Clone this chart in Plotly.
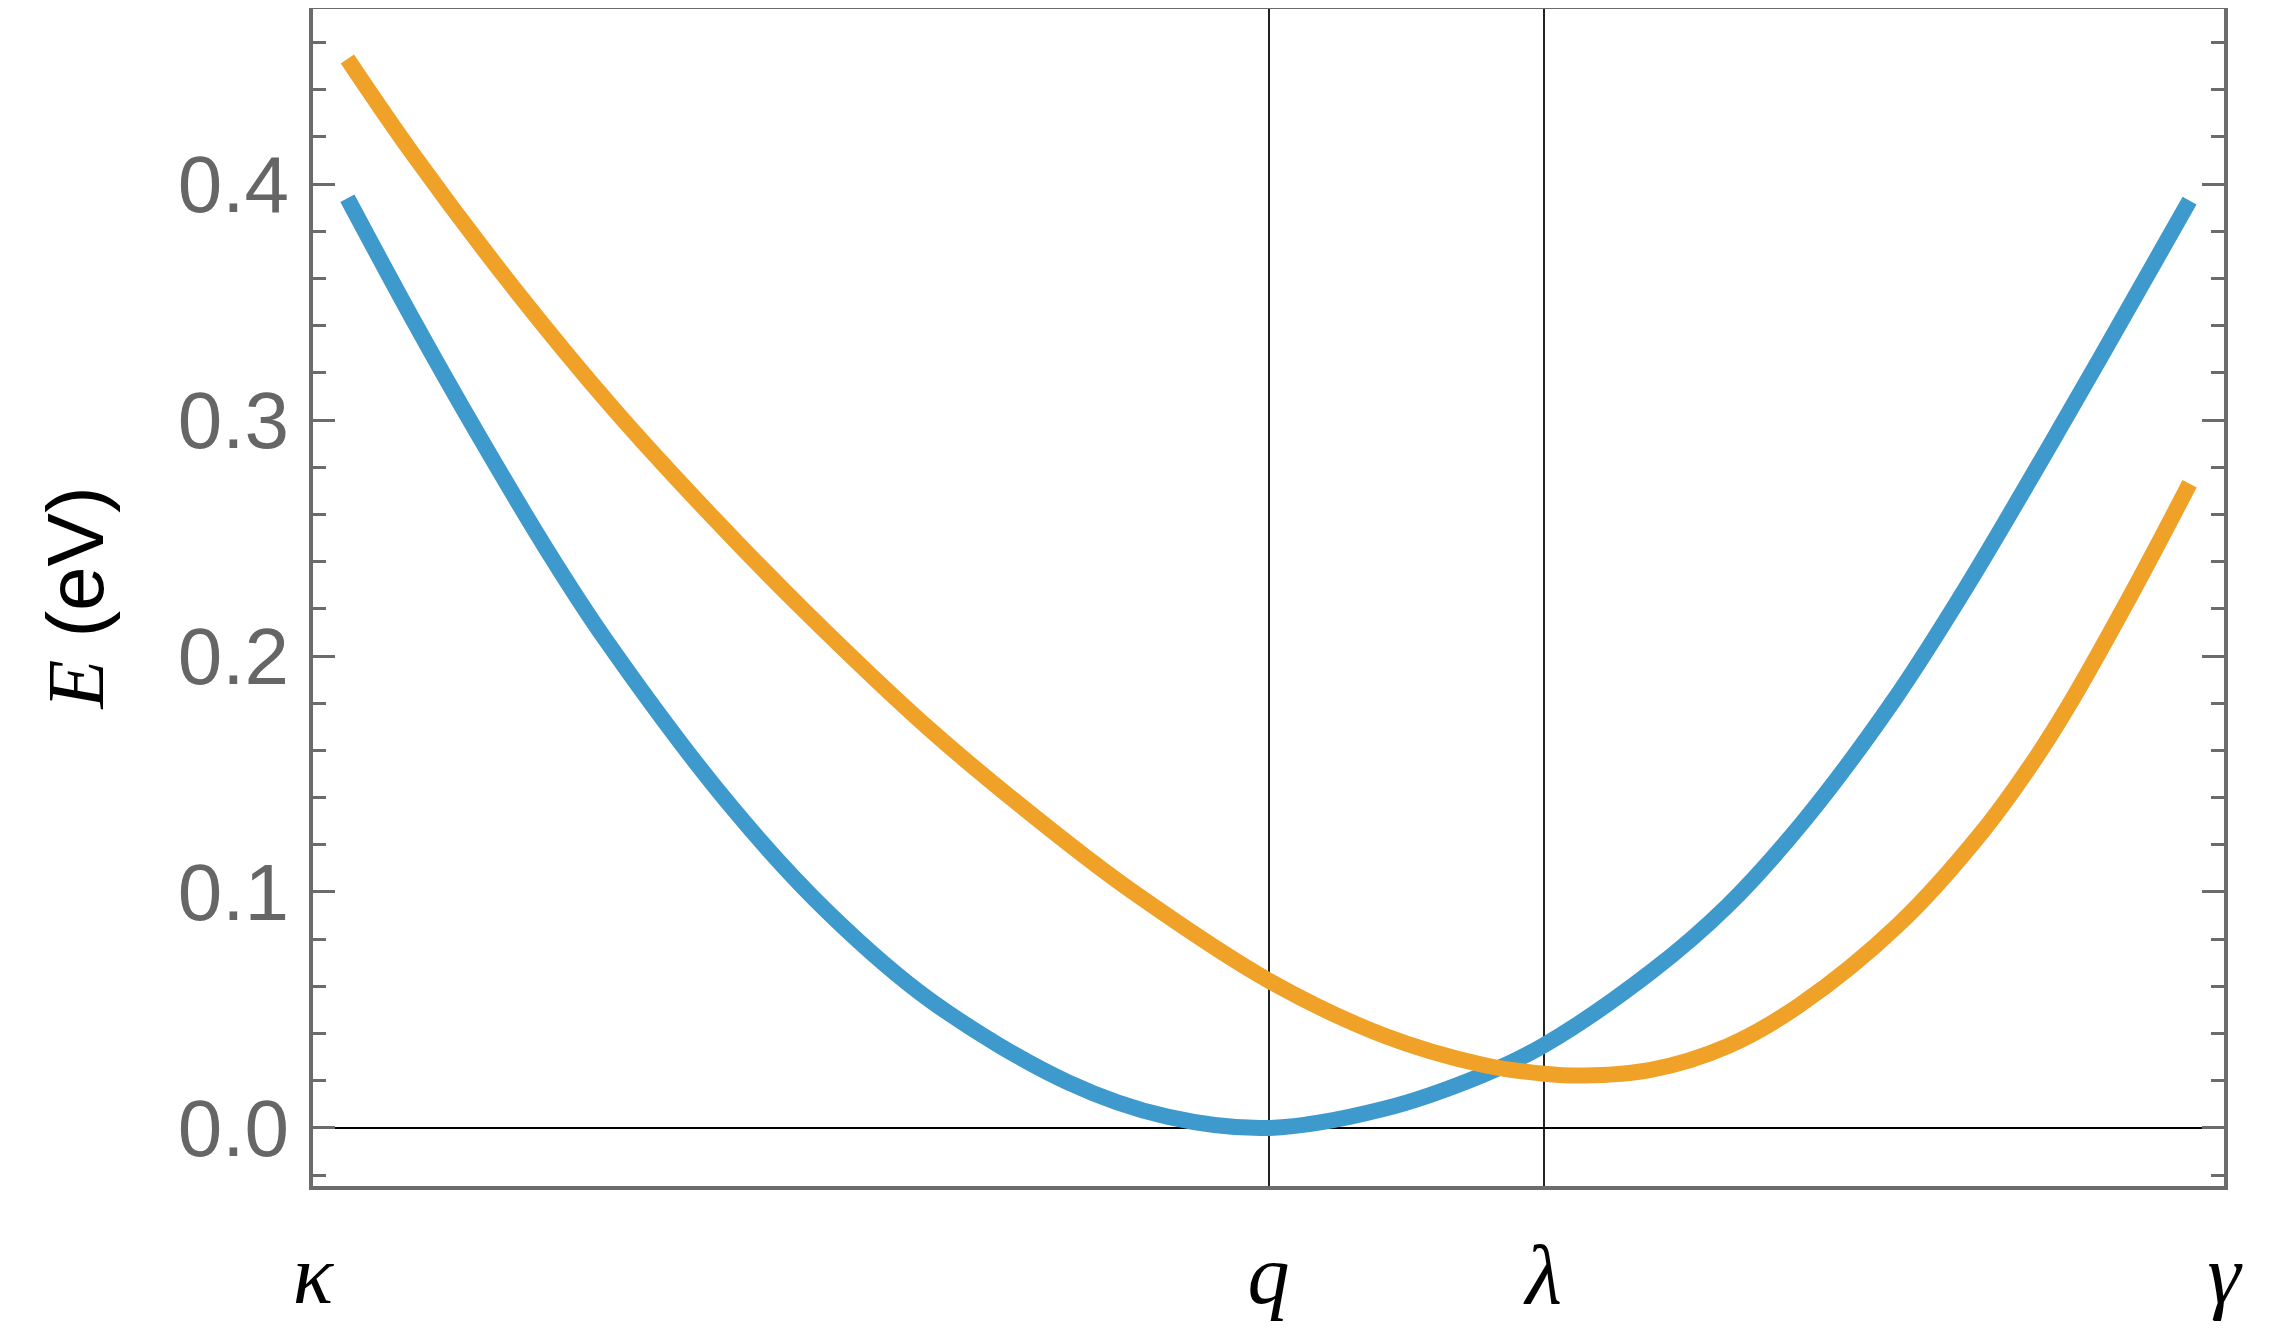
import plotly.graph_objects as go

# path coordinate (kappa = 0, gamma = 1) and energies (eV)
k_blue = [0.018, 0.052, 0.087, 0.122, 0.153, 0.218, 0.270, 0.324, 0.395, 0.447,
          0.500, 0.560, 0.612, 0.644, 0.700, 0.740, 0.780, 0.827, 0.865, 0.918,
          0.968, 0.982]
e_blue = [0.394, 0.343, 0.293, 0.2455, 0.207, 0.137, 0.091, 0.0535, 0.0194, 0.0048,
          0.000, 0.008, 0.0224, 0.035, 0.066, 0.094, 0.130, 0.181, 0.229, 0.302,
          0.373, 0.393]

k_orange = [0.018, 0.052, 0.105, 0.157, 0.209, 0.258, 0.324, 0.395, 0.430, 0.500, 0.560,
            0.612, 0.644, 0.665, 0.700, 0.740, 0.778, 0.830, 0.874, 0.900, 0.918, 0.952,
            0.982]
e_orange = [0.453, 0.413, 0.356, 0.305, 0.259, 0.2185, 0.168, 0.1207, 0.0995, 0.0625, 0.0393,
            0.0268, 0.023, 0.0222, 0.0246, 0.0346, 0.0521, 0.0864, 0.126, 0.155, 0.178, 0.227,
            0.273]

kpoints = [0.0, 0.5, 0.644, 1.0]
klabels = ['κ', 'q', 'λ', 'γ']

fig = go.Figure()

fig.add_trace(go.Scatter(
    x=k_blue, y=e_blue, mode='lines',
    line=dict(color='#3e99cc', width=16, shape='spline', smoothing=1.0),
    showlegend=False
))
fig.add_trace(go.Scatter(
    x=k_orange, y=e_orange, mode='lines',
    line=dict(color='#f0a128', width=16, shape='spline', smoothing=1.0),
    showlegend=False
))

# page body keeps its default 8px margin, so the figure is a bit smaller than the window
fig.update_layout(
    width=2286, height=1333, autosize=False,
    margin=dict(l=305, r=70, t=1, b=155),
    paper_bgcolor='white', plot_bgcolor='white',
    xaxis=dict(
        range=[0, 1],
        tickmode='array', tickvals=kpoints, ticktext=klabels,
        ticks='', showgrid=True, gridcolor='#222222', gridwidth=1.5,
        showline=True, linecolor='#6b6b6b', linewidth=4, mirror=True,
        zeroline=False, automargin=False,
        tickfont=dict(family='Liberation Serif', size=84, color='black', style='italic'),
        ticklabelstandoff=12,
    ),
    yaxis=dict(
        range=[-0.0246, 0.4742],
        tickmode='linear', tick0=0, dtick=0.1, tickformat='.1f',
        ticks='inside', ticklen=22, tickwidth=3, tickcolor='#6b6b6b',
        minor=dict(dtick=0.02, tick0=0, ticks='inside', ticklen=13, tickwidth=3,
                   tickcolor='#6b6b6b', showgrid=False),
        showgrid=False,
        showline=True, linecolor='#6b6b6b', linewidth=4, mirror='ticks',
        zeroline=True, zerolinecolor='black', zerolinewidth=1.5,
        automargin=False,
        tickfont=dict(family='Liberation Sans', size=80, color='#666666'),
        ticklabelstandoff=4,
        title=dict(
            text='<span style="font-family:Liberation Serif;font-style:italic">E</span> (eV)',
            font=dict(family='Liberation Sans', size=80, color='black'),
            standoff=49,
        ),
    ),
)

fig.write_html("out.html")
